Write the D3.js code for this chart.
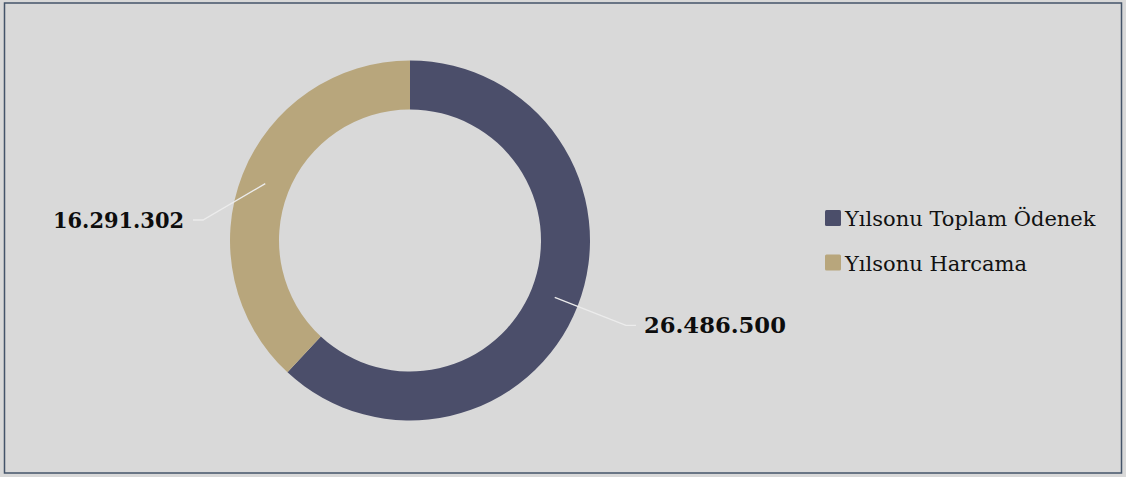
<!DOCTYPE html>
<html><head><meta charset="utf-8">
<script src="https://cdn.jsdelivr.net/npm/d3@7"></script>
<style>html,body{margin:0;padding:0;background:#d9d9d9;}svg{display:block;}</style>
</head><body>
<svg id="chart" width="1126" height="477"></svg>
<script>
const categories = ["Yılsonu Toplam Ödenek", "Yılsonu Harcama"];
const values = [26486500, 16291302];
const valueLabels = ["26.486.500", "16.291.302"];
const colors = ["#4b4e6a", "#b8a67c"];

const W = 1126, H = 477;
const cx = 410, cy = 240.5, rOuter = 180, rInner = 131;
const svg = d3.select("#chart");
svg.append("rect").attr("x", 0).attr("y", 0).attr("width", W).attr("height", H).attr("fill", "#d9d9d9");
svg.append("rect").attr("x", 4.5).attr("y", 3).attr("width", 1117).attr("height", 470)
  .attr("fill", "none").attr("stroke", "#44546a").attr("stroke-width", 1.5);

const data = categories.map((c, i) => ({cat: c, value: values[i], label: valueLabels[i], color: colors[i]}));
const pie = d3.pie().value(d => d.value).sort(null);
const arcs = pie(data);
const arc = d3.arc().innerRadius(rInner).outerRadius(rOuter);
const g = svg.append("g").attr("transform", `translate(${cx},${cy})`);
g.selectAll("path.slice").data(arcs).enter().append("path")
  .attr("class", "slice").attr("d", arc).attr("fill", d => d.data.color);

// leader lines + labels
const labelLayout = [{r: 232, tail: 10, len: 142}, {r: 232, tail: 10, len: 131}];
const midArc = d3.arc().innerRadius((rInner + rOuter) / 2).outerRadius((rInner + rOuter) / 2);
arcs.forEach((d, i) => {
  const [sx, sy] = midArc.centroid(d);
  const a = (d.startAngle + d.endAngle) / 2;
  const right = Math.sin(a) > 0;
  let [ex, ey] = d3.pointRadial(a, labelLayout[i].r);
  if (!right) { ex = -207; ey = -20.5; }
  const tx = ex + (right ? labelLayout[i].tail : -labelLayout[i].tail);
  g.append("polyline").attr("points", `${sx},${sy} ${ex},${ey} ${tx},${ey}`)
    .attr("fill", "none").attr("stroke", "#ececec").attr("stroke-width", 1.3);
  g.append("text").attr("x", tx + (right ? 8 : -9)).attr("y", ey).attr("dy", "0.36em")
    .attr("text-anchor", right ? "start" : "end")
    .attr("font-family", "DejaVu Serif, serif").attr("font-weight", "bold")
    .attr("font-size", 22).attr("fill", "#0d0d0d")
    .attr("textLength", labelLayout[i].len).attr("lengthAdjust", "spacingAndGlyphs")
    .text(d.data.label);
});

// legend
const lg = svg.append("g").attr("transform", "translate(825,210)");
const rows = lg.selectAll("g").data(data).enter().append("g")
  .attr("transform", (d, i) => `translate(0,${i * 44.5})`);
rows.append("rect").attr("width", 16).attr("height", 16).attr("rx", 1.5).attr("fill", d => d.color);
rows.append("text").attr("x", 20).attr("y", 16).attr("font-family", "DejaVu Serif, serif")
  .attr("font-size", 21).attr("fill", "#111").text(d => d.cat);
</script>
</body></html>
